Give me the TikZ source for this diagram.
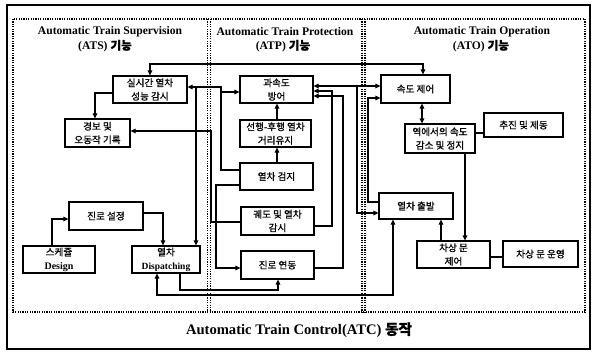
\documentclass[tikz,border=0pt]{standalone}
\usepackage{fontspec}
\setmainfont{Liberation Serif}
\newfontfamily\kr[FakeBold=1]{Noto Sans CJK KR}
\usetikzlibrary{arrows.meta}
\begin{document}
\begin{tikzpicture}[x=1pt,y=-1pt,
  box/.style={draw, line width=1.1pt, inner sep=0pt, align=center, font=\kr\fontsize{9.6}{13.5}\selectfont},
  conn/.style={line width=1.1pt},
  arr/.style={conn, -{Triangle[length=5pt,width=4.5pt]}},
  arrb/.style={conn, {Triangle[length=5pt,width=4.5pt]}-{Triangle[length=5pt,width=4.5pt]}},
  frame/.style={line width=1.3pt, dash pattern=on 1.2pt off 1.2pt},
  title/.style={font=\bfseries\fontsize{11.6}{13}\selectfont, inner sep=0pt},
  lat/.style={font=\rmfamily\fontsize{10}{13.5}\selectfont}
]
\useasboundingbox (0,0) rectangle (592,351);
\fill[white] (0,0) rectangle (592,351);
% frames
\draw[line width=1.5pt] (7,5) rectangle (590,349);
\draw[frame] (13,19) rectangle (585,312);
\draw[frame] (207.5,19) -- (207.5,312);
\draw[frame] (210.5,19) -- (210.5,312);
\draw[frame] (362,19) -- (362,312);
\draw[frame] (365,19) -- (365,312);
% titles
\node[title] (t1a) at (110,32) {Automatic Train Supervision};
\node[title] (t1b) at (105,46) {(ATS) {\kr 기능}};
\node[title] (t2a) at (285,32) {Automatic Train Protection};
\node[title] (t2b) at (283,46) {(ATP) {\kr 기능}};
\node[title] (t3a) at (482,32) {Automatic Train Operation};
\node[title] (t3b) at (481,46) {(ATO) {\kr 기능}};
\node[font=\bfseries\fontsize{14.6}{16}\selectfont, inner sep=0pt] (atc) at (299,330) {Automatic Train Control(ATC) {\kr 동작}};
% ATS boxes
\node[box, minimum width=74pt, minimum height=27pt] (rt) at (150,89.5) {실시간 열차\\성능 감시};
\node[box, minimum width=65pt, minimum height=28pt] (alarm) at (97.5,133) {경보 및\\오동작 기록};
\node[box, minimum width=74pt, minimum height=28pt] (route) at (106,216) {진로 설정};
\node[box, minimum width=72pt, minimum height=27pt] (sched) at (59,259.5) {스케쥴\\{\rmfamily\bfseries\fontsize{10}{13.5}\selectfont Design}};
\node[box, minimum width=68pt, minimum height=27pt] (disp) at (166,259.5) {열차\\{\rmfamily\bfseries\fontsize{9.5}{13.5}\selectfont Dispatching}};
% ATP boxes
\node[box, minimum width=73pt, minimum height=27pt] (ovsp) at (276.5,89.5) {과속도\\방어};
\node[box, minimum width=71pt, minimum height=27pt] (sep) at (275.5,133.5) {선행-후행 열차\\거리유지};
\node[box, minimum width=73pt, minimum height=27pt] (det) at (276.5,176.5) {열차 검지};
\node[box, minimum width=73pt, minimum height=28pt] (trk) at (277.5,221) {궤도 및 열차\\감시};
\node[box, minimum width=73pt, minimum height=28pt] (intl) at (277.5,265) {진로 연동};
% ATO boxes
\node[box, minimum width=69pt, minimum height=28pt] (spd) at (415.5,89) {속도 제어};
\node[box, minimum width=70pt, minimum height=29pt] (stn) at (440,138.5) {역에서의 속도\\감소 및 정지};
\node[box, minimum width=79pt, minimum height=24pt] (prop) at (523.5,125) {추진 및 제동};
\node[box, minimum width=74pt, minimum height=26pt] (dep) at (416,206) {열차 출발};
\node[box, minimum width=73pt, minimum height=27pt] (door) at (453.5,254.5) {차상 문\\제어};
\node[box, minimum width=75pt, minimum height=26pt] (doorop) at (540.5,254) {차상 문 운영};
% connectors
\draw[arrb] (rt.north) |- (150,64) -| (spd.north -| 423,0);
\draw[arrb] (ovsp.east |- 0,86) -- (spd.west |- 0,86);
\draw[arr] (357,86) |- (dep.west |- 0,213);
\draw[arr] (dep.west |- 0,202) -| (368,98) -- (spd.west |- 0,98);
\draw[arr] (trk.east |- 0,226) -| (332,91) -- (ovsp.east |- 0,91);
\draw[arr] (intl.east |- 0,268) -| (343,96) -- (ovsp.east |- 0,96);
\draw[arr] (det.north -| 277,0) -- (sep.south -| 277,0);
\draw[arr] (sep.north -| 277,0) -- (ovsp.south -| 277,0);
\draw[arr] (det.west |- 0,170) -| (221,87) -- (rt.east |- 0,87);
\draw[arr] (221,92) -- (ovsp.west |- 0,92);
\draw[arr] (196,87) -- (disp.north -| 196,0);
\draw[arr] (det.west |- 0,185) -| (216,268) -- (intl.west |- 0,268);
\draw[arr] (trk.west |- 0,222) -| (211,131) -- (alarm.east |- 0,131);
\draw[arr] (rt.west |- 0,93) -| (alarm.north -| 95,0);
\draw[arr] (route.east |- 0,213) -| (disp.north -| 163,0);
\draw[arr] (sched.north -| 52,0) |- (route.west |- 0,219);
\draw[arr] (disp.south -| 180,0) |- (278,290) -- (intl.south -| 278,0);
\draw[arrb] (disp.south -| 157,0) |- (393,295) -- (dep.south -| 393,0);
\draw[arrb] (spd.south -| 422,0) -- (stn.north -| 422,0);
\draw[conn] (stn.east |- 0,133) -- (prop.west |- 0,133);
\draw[arr] (stn.south -| 465,0) -- (door.north -| 465,0);
\draw[arr] (door.north -| 441,0) -- (dep.south -| 441,0);
\draw[conn] (door.east |- 0,257) -- (doorop.west |- 0,257);
\end{tikzpicture}
\end{document}
